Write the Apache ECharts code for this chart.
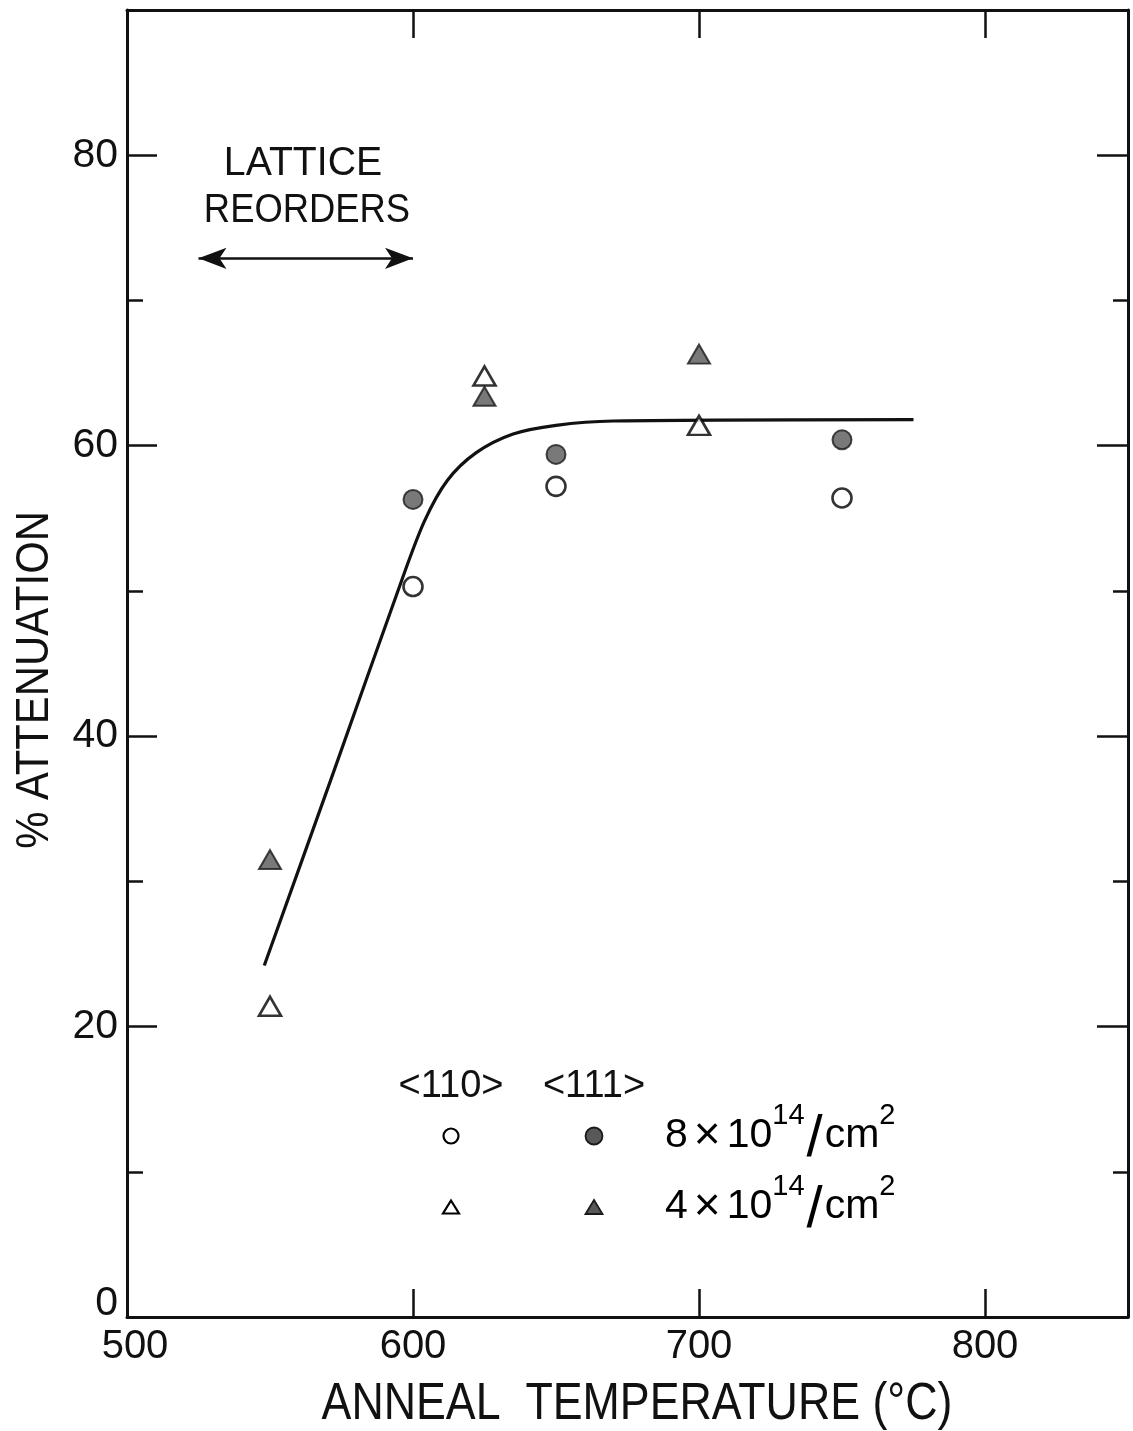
<!DOCTYPE html>
<html>
<head>
<meta charset="utf-8">
<title>% Attenuation vs Anneal Temperature</title>
<script src="https://cdn.jsdelivr.net/npm/echarts@6/dist/echarts.min.js"></script>
<style>
  html, body { margin: 0; padding: 0; background: #fff; }
  #chart { width: 1133px; height: 1431px; }
</style>
</head>
<body>
<div id="chart"></div>
<script>
// ---- data ----
// fitted trend curve
const curveTemp  = [548, 572, 596, 604, 612, 622, 635, 650, 670, 775];
const curveAtten = [24.2, 37.4, 50.7, 54.8, 57.6, 59.5, 60.8, 61.4, 61.7, 61.8];

// 8x10^14 /cm^2 dose
const dose8Temp     = [600, 650, 750];
const dose8Atten110 = [50.3, 57.2, 56.4];
const dose8Atten111 = [56.3, 59.4, 60.4];

// 4x10^14 /cm^2 dose
const dose4Temp     = [550, 625, 700];
const dose4Atten110 = [21.4, 64.8, 61.4];
const dose4Atten111 = [31.5, 63.4, 66.3];

// lattice reordering range (°C) and the height of its arrow
const reorderRange = [525, 600];
const reorderLevel = 72.9;

// axis ranges and labelled ticks
const xRange = [500, 850];
const yRange = [0, 90];
const xTickLabels = [500, 600, 700, 800];
const yTickLabels = [0, 20, 40, 60, 80];

// ---- helpers ----
const FONT = "'Liberation Sans', Arial, Helvetica, sans-serif";
const INK = '#111';
const FILL = '#585858';
const pairs = (xs, ys) => xs.map((x, i) => [x, ys[i]]);

const chart = echarts.init(document.getElementById('chart'), null, { renderer: 'canvas' });

const frameLine = { show: true, onZero: false, lineStyle: { color: INK, width: 3 } };
const noLine = { show: false, onZero: false };
const tickStyle = { color: INK, width: 2.5 };

function xAxisDef(pos, showLabels) {
  return {
    type: 'value', position: pos, min: xRange[0], max: xRange[1], interval: 100,
    axisLine: frameLine,
    axisTick: { show: true, inside: true, length: 28, lineStyle: tickStyle },
    splitLine: { show: false },
    axisLabel: showLabels ? {
      show: true, fontSize: 40, fontFamily: FONT, color: INK, margin: 10,
      formatter: v => xTickLabels.indexOf(v) < 0 ? '' : (v === xRange[0] ? '{f|' + v + '}' : String(v)),
      rich: { f: { fontSize: 40, fontFamily: FONT, color: INK, padding: [0, 0, 0, 16] } }
    } : { show: false }
  };
}

function yAxisDef(pos, step, len, showLabels, showLine) {
  return {
    type: 'value', position: pos, min: yRange[0], max: yRange[1], interval: step,
    axisLine: showLine ? frameLine : noLine,
    axisTick: { show: true, inside: true, length: len, lineStyle: tickStyle },
    splitLine: { show: false },
    axisLabel: showLabels ? {
      show: true, fontSize: 41, fontFamily: FONT, color: INK, margin: 9,
      formatter: v => yTickLabels.indexOf(v) < 0 ? '' : (v === 0 ? '{z|0}' : String(v)),
      rich: { z: { fontSize: 41, fontFamily: FONT, color: INK, padding: [0, 0, 26, 0] } }
    } : { show: false }
  };
}

const openStyle   = { color: '#fff', borderColor: '#000', borderWidth: 2.6 };
const filledStyle = { color: FILL, borderColor: '#1a1a1a', borderWidth: 2 };

function scatter(name, xs, ys, symbol, size, style) {
  return {
    name, type: 'scatter', xAxisIndex: 0, yAxisIndex: 0,
    data: pairs(xs, ys), symbol, symbolSize: size,
    itemStyle: style, z: 5, silent: true
  };
}

// legend block drawn beneath the data
const LX1 = 451, LX2 = 594, LTX = 665;
const LY0 = 1087, LY1 = 1136, LY2 = 1207;
function tri(cx, cy, w, h) {
  return [[cx - w / 2, cy + h / 2], [cx + w / 2, cy + h / 2], [cx, cy - h / 2]];
}
const doseRich = {
  b: { fontSize: 41, fontFamily: FONT, color: INK },
  x: { fontSize: 46, fontFamily: FONT, color: INK, padding: [0, 6, 0, 6] },
  s: { fontSize: 29, fontFamily: FONT, color: INK, padding: [0, 2, 40, 0] },
  sl: { fontSize: 58, fontFamily: FONT, color: INK, padding: [8, 2, 0, 0] }
};

const option = {
  backgroundColor: '#fff',
  animation: false,
  grid: { left: 127, right: 5, top: 10, bottom: 114, outerBoundsMode: 'none' },
  xAxis: [xAxisDef('bottom', true), xAxisDef('top', false)],
  yAxis: [
    yAxisDef('left', 20, 30, true, true),
    yAxisDef('left', 10, 16, false, false),
    yAxisDef('right', 20, 31, false, true),
    yAxisDef('right', 10, 15, false, false)
  ],
  series: [
    {
      name: 'fit', type: 'line', xAxisIndex: 0, yAxisIndex: 0,
      data: pairs(curveTemp, curveAtten),
      smooth: 0.3, showSymbol: false, symbol: 'none',
      lineStyle: { color: INK, width: 3.2 }, z: 3, silent: true,
      markLine: {
        silent: true, symbol: ['arrow', 'arrow'], symbolSize: [16, 28],
        label: { show: false },
        lineStyle: { color: INK, width: 2.5, type: 'solid' },
        itemStyle: { color: '#2a2a2a' },
        data: [[{ coord: [reorderRange[0], reorderLevel] }, { coord: [reorderRange[1], reorderLevel] }]]
      }
    },
    scatter('<110> 8×10^14', dose8Temp, dose8Atten110, 'circle', 19, openStyle),
    scatter('<111> 8×10^14', dose8Temp, dose8Atten111, 'circle', 19, filledStyle),
    scatter('<110> 4×10^14', dose4Temp, dose4Atten110, 'triangle', [22, 19], openStyle),
    scatter('<111> 4×10^14', dose4Temp, dose4Atten111, 'triangle', [22, 19], filledStyle)
  ],
  graphic: [
    // axis titles
    {
      type: 'text', x: 35, y: 680, rotation: Math.PI / 2, scaleX: 0.89,
      style: { text: '% ATTENUATION', font: '47px ' + FONT, fill: INK, align: 'center', verticalAlign: 'middle' }
    },
    {
      type: 'text', x: 637, y: 1405, scaleX: 0.86,
      style: { text: 'ANNEAL  TEMPERATURE (°C)', font: '52px ' + FONT, fill: INK, align: 'center', verticalAlign: 'middle' }
    },
    // reordering note
    {
      type: 'text', x: 303, y: 164, scaleX: 0.98,
      style: { text: 'LATTICE', font: '40px ' + FONT, fill: INK, align: 'center', verticalAlign: 'middle' }
    },
    {
      type: 'text', x: 307, y: 211, scaleX: 0.91,
      style: { text: 'REORDERS', font: '40px ' + FONT, fill: INK, align: 'center', verticalAlign: 'middle' }
    },
    // legend
    { type: 'text', x: LX1, y: LY0, style: { text: '<110>', font: '38px ' + FONT, fill: INK, align: 'center', verticalAlign: 'middle' } },
    { type: 'text', x: LX2, y: LY0, style: { text: '<111>', font: '38px ' + FONT, fill: INK, align: 'center', verticalAlign: 'middle' } },
    { type: 'circle', shape: { cx: LX1, cy: LY1, r: 7.5 }, style: { fill: '#fff', stroke: '#000', lineWidth: 2.2 } },
    { type: 'circle', shape: { cx: LX2, cy: LY1, r: 8.5 }, style: { fill: FILL, stroke: '#1a1a1a', lineWidth: 1.8 } },
    { type: 'polygon', shape: { points: tri(LX1, LY2, 16, 13) }, style: { fill: '#fff', stroke: '#000', lineWidth: 2.2 } },
    { type: 'polygon', shape: { points: tri(LX2, LY2, 17, 14) }, style: { fill: FILL, stroke: '#1a1a1a', lineWidth: 1.8 } },
    {
      type: 'text', x: LTX, y: LY1,
      style: { text: '{b|8}{x|×}{b|10}{s|14}{sl|/}{b|cm}{s|2}', rich: doseRich, align: 'left', verticalAlign: 'middle' }
    },
    {
      type: 'text', x: LTX, y: LY2,
      style: { text: '{b|4}{x|×}{b|10}{s|14}{sl|/}{b|cm}{s|2}', rich: doseRich, align: 'left', verticalAlign: 'middle' }
    }
  ]
};

chart.setOption(option);
</script>
</body>
</html>
